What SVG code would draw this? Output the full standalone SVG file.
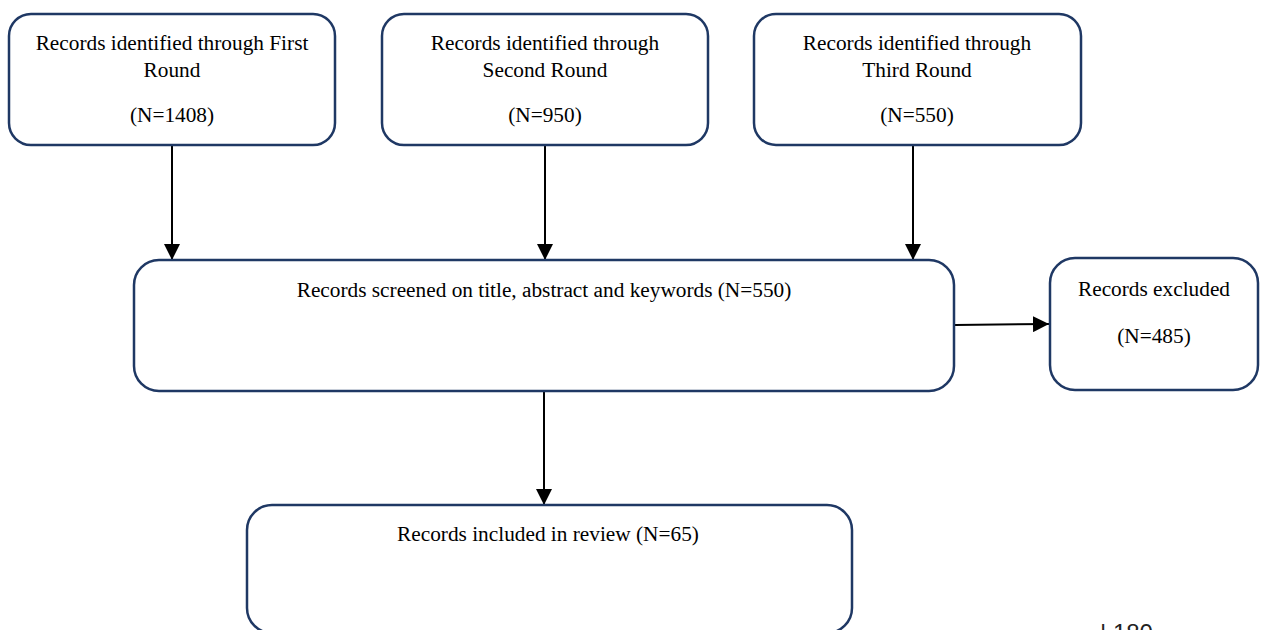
<svg xmlns="http://www.w3.org/2000/svg" width="1263" height="630" viewBox="0 0 1263 630">
<style>
.box{fill:#fff;stroke:#1f3864;stroke-width:2.5}
.t{font-family:"Liberation Serif","Times New Roman",serif;font-size:21.3px;fill:#000;text-anchor:middle}
.c{stroke:#000;stroke-width:2;fill:none;marker-end:url(#ah)}
</style>
<defs>
<marker id="ah" markerWidth="16" markerHeight="16" viewBox="0 0 16 16" refX="16" refY="8" orient="auto" markerUnits="userSpaceOnUse">
<path d="M0,0 L16,8 L0,16 z" fill="#000"/>
</marker>
</defs>
<rect width="1263" height="630" fill="#fff"/>
<g id="connectors">
<line class="c" x1="172" y1="146" x2="172" y2="260"/>
<line class="c" x1="545" y1="146" x2="545" y2="260"/>
<line class="c" x1="913" y1="146" x2="913" y2="260"/>
<line class="c" x1="955" y1="325" x2="1049" y2="324"/>
<line class="c" x1="544" y1="391" x2="544" y2="505"/>
</g>
<g id="n1">
<rect class="box" x="9" y="14" width="326" height="131" rx="22"/>
<text class="t" x="172" y="50">Records identified through First</text>
<text class="t" x="172" y="77">Round</text>
<text class="t" x="172" y="122">(N=1408)</text>
</g>
<g id="n2">
<rect class="box" x="382" y="14" width="326" height="131" rx="22"/>
<text class="t" x="545" y="50">Records identified through</text>
<text class="t" x="545" y="77">Second Round</text>
<text class="t" x="545" y="122">(N=950)</text>
</g>
<g id="n3">
<rect class="box" x="754" y="14" width="327" height="131" rx="22"/>
<text class="t" x="917" y="50">Records identified through</text>
<text class="t" x="917" y="77">Third Round</text>
<text class="t" x="917" y="122">(N=550)</text>
</g>
<g id="n4">
<rect class="box" x="134" y="260" width="820" height="131" rx="25"/>
<text class="t" x="544" y="297">Records screened on title, abstract and keywords (N=550)</text>
</g>
<g id="n5">
<rect class="box" x="1050" y="258" width="208" height="132" rx="25"/>
<text class="t" x="1154" y="296">Records excluded</text>
<text class="t" x="1154" y="343">(N=485)</text>
</g>
<g id="n6">
<rect class="box" x="247" y="505" width="605" height="128" rx="25"/>
<text class="t" x="548" y="541">Records included in review (N=65)</text>
</g>
<text x="1100" y="641" font-family="Liberation Sans, Arial, sans-serif" font-size="24" fill="#222">| 180</text>
</svg>
